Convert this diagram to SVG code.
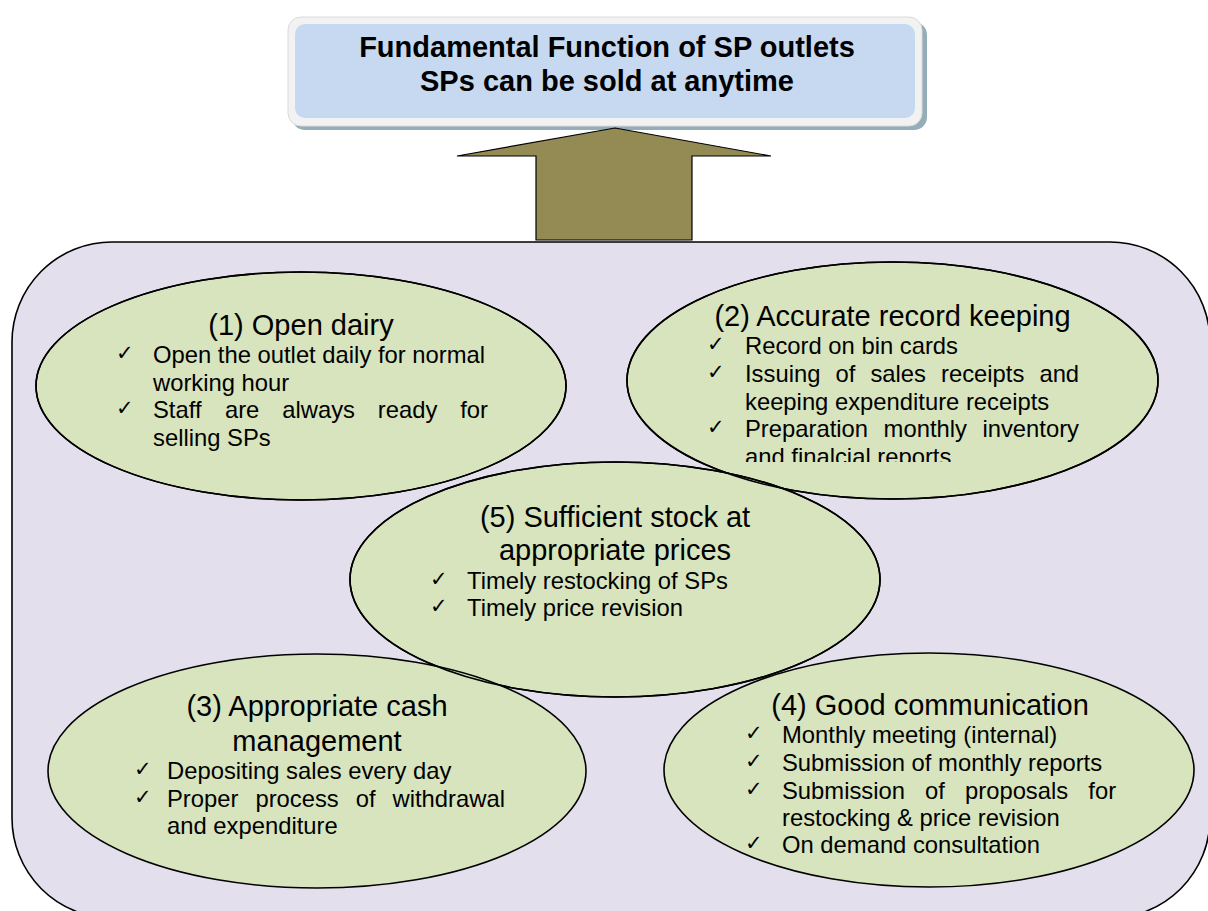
<svg xmlns="http://www.w3.org/2000/svg" width="1208" height="911" viewBox="0 0 1208 911">
<defs>
<style>
.bg{fill:#ffffff}
.panel{fill:#e4dfec;stroke:#000;stroke-width:1.6}
.ell{fill:#d7e4bd;stroke:#000;stroke-width:1.6}
.outl{fill:none;stroke:#000;stroke-width:1.6}
.ttl{font-family:"Liberation Sans",Arial,sans-serif;font-size:29px;fill:#000;text-anchor:middle}
.hdr{font-family:"Liberation Sans",Arial,sans-serif;font-size:29px;font-weight:bold;fill:#000;text-anchor:middle}
.body{font-family:"Liberation Sans",Arial,sans-serif;font-size:23.8px;fill:#000}
.chk{font-family:"DejaVu Sans",sans-serif;font-size:21px;fill:#000}
</style>
<clipPath id="clip2"><rect x="600" y="250" width="600" height="212"/></clipPath>
</defs>
<rect class="bg" x="0" y="0" width="1208" height="911"/>

<g id="panel">
<rect class="panel" x="12" y="242" width="1198" height="676" rx="100" ry="100"/>
</g>

<g id="title">
<rect x="292" y="22" width="635" height="108" rx="13" fill="#94adb7"/>
<rect x="288" y="17" width="634" height="109" rx="13" fill="#f2f2f2" stroke="#dadada" stroke-width="1"/>
<rect x="295" y="24" width="620" height="94" rx="10" fill="#c6d9f1"/>
<text class="hdr" x="607" y="57">Fundamental Function of SP outlets</text>
<text class="hdr" x="607" y="91">SPs can be sold at anytime</text>
</g>

<g id="connectors">
<polygon points="615,128 771,156 692,156 692,240 536,240 536,156 457,156" fill="#948a54" stroke="#000" stroke-width="1.2"/>
</g>

<g id="node1">
<ellipse class="ell" cx="301" cy="386" rx="265" ry="114"/>
<text class="ttl" x="301" y="335">(1) Open dairy</text>
<text class="chk" x="116" y="360">✓</text>
<text class="body" x="153" y="363">Open the outlet daily for normal</text>
<text class="body" x="153" y="390.5">working hour</text>
<text class="chk" x="116" y="415">✓</text>
<text class="body" y="418"><tspan x="153">Staff</tspan><tspan x="224.9">are</tspan><tspan x="282.2">always</tspan><tspan x="377.8">ready</tspan><tspan x="460.2">for</tspan></text>
<text class="body" x="153" y="445.5">selling SPs</text>
</g>

<g id="node2">
<ellipse class="ell" cx="892.5" cy="380.5" rx="265.5" ry="118.5"/>
<text class="ttl" x="892.5" y="326">(2) Accurate record keeping</text>
<g clip-path="url(#clip2)">
<text class="chk" x="707" y="351">✓</text>
<text class="body" x="745" y="354">Record on bin cards</text>
<text class="chk" x="707" y="379">✓</text>
<text class="body" y="382"><tspan x="745">Issuing</tspan><tspan x="835.5">of</tspan><tspan x="870.4">sales</tspan><tspan x="941">receipts</tspan><tspan x="1039.4">and</tspan></text>
<text class="body" x="745" y="409.5">keeping expenditure receipts</text>
<text class="chk" x="707" y="434">✓</text>
<text class="body" y="437"><tspan x="745">Preparation</tspan><tspan x="883.6">monthly</tspan><tspan x="982.4">inventory</tspan></text>
<text class="body" x="745" y="464.5">and finalcial reports</text>
</g>
</g>

<g id="node5">
<ellipse class="ell" cx="615" cy="579.5" rx="265" ry="117.5"/>
<text class="ttl" x="615" y="527">(5) Sufficient stock at</text>
<text class="ttl" x="615" y="560">appropriate prices</text>
<text class="chk" x="430" y="586">✓</text>
<text class="body" x="467" y="589">Timely restocking of SPs</text>
<text class="chk" x="430" y="613">✓</text>
<text class="body" x="467" y="616">Timely price revision</text>
</g>

<g id="node3">
<ellipse class="ell" cx="317" cy="771" rx="269" ry="117"/>
<text class="ttl" x="317" y="716">(3) Appropriate cash</text>
<text class="ttl" x="317" y="751">management</text>
<text class="chk" x="134" y="776">✓</text>
<text class="body" x="167" y="779">Depositing sales every day</text>
<text class="chk" x="134" y="804">✓</text>
<text class="body" y="807"><tspan x="167">Proper</tspan><tspan x="255.4">process</tspan><tspan x="355.7">of</tspan><tspan x="392.5">withdrawal</tspan></text>
<text class="body" x="167" y="834">and expenditure</text>
</g>

<g id="node4">
<ellipse class="ell" cx="929" cy="770" rx="265" ry="117"/>
<text class="ttl" x="930" y="715">(4) Good communication</text>
<text class="chk" x="745" y="740">✓</text>
<text class="body" x="782" y="743">Monthly meeting (internal)</text>
<text class="chk" x="745" y="768">✓</text>
<text class="body" x="782" y="771">Submission of monthly reports</text>
<text class="chk" x="745" y="796">✓</text>
<text class="body" y="799"><tspan x="782">Submission</tspan><tspan x="925.1">of</tspan><tspan x="965">proposals</tspan><tspan x="1088.3">for</tspan></text>
<text class="body" x="782" y="826">restocking &amp; price revision</text>
<text class="chk" x="745" y="850">✓</text>
<text class="body" x="782" y="853">On demand consultation</text>
</g>

<g id="overlap-outlines">
<ellipse class="outl" cx="301" cy="386" rx="265" ry="114"/>
<ellipse class="outl" cx="892.5" cy="380.5" rx="265.5" ry="118.5"/>
<ellipse class="outl" cx="615" cy="579.5" rx="265" ry="117.5"/>
</g>
</svg>
